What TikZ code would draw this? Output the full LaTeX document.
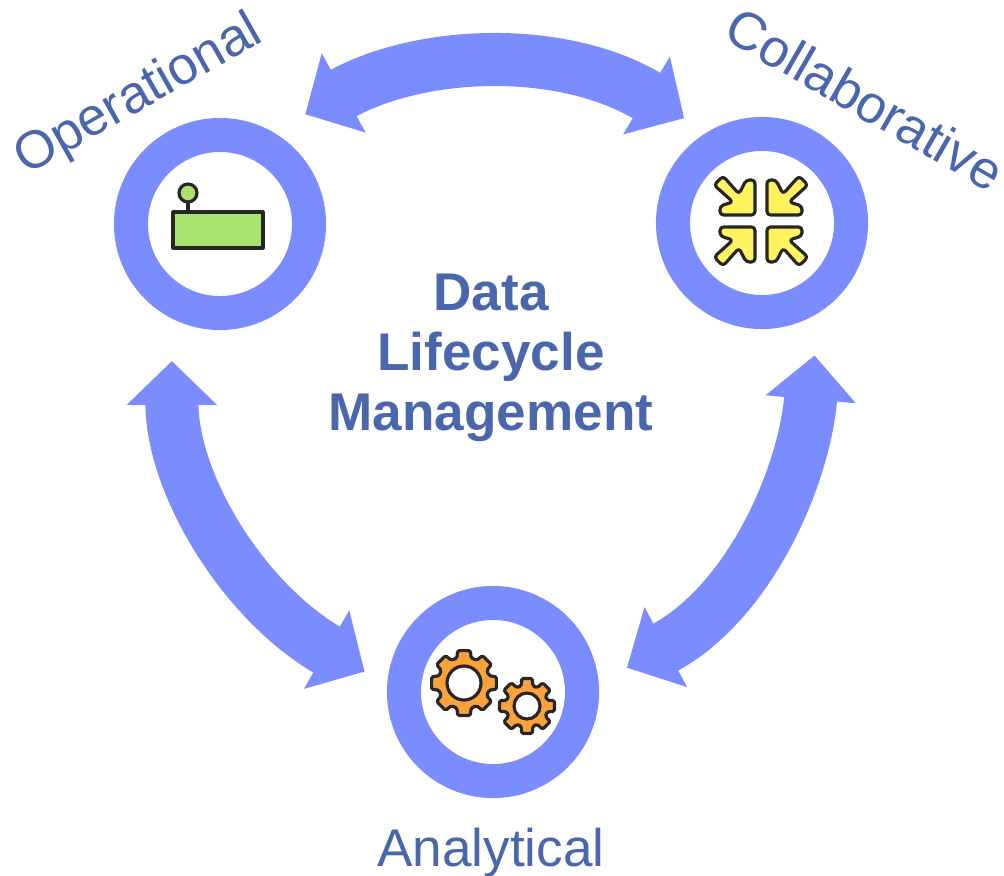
\documentclass[tikz,border=0pt]{standalone}
\usepackage{fontspec}
\setmainfont{Liberation Sans}
\usetikzlibrary{arrows.meta,calc}
\definecolor{flowblue}{HTML}{7B8CFF}
\definecolor{labelblue}{HTML}{4A66AC}
\definecolor{boxgreen}{HTML}{A9E26F}
\definecolor{arrowyellow}{HTML}{FFF45F}
\definecolor{gearorange}{HTML}{F9A23C}
\tikzset{
	ring/.style={circle,draw=flowblue,line width=.34cm,minimum size=1.78cm,inner sep=0pt},
	flow/.style={draw=flowblue,line width=.53cm,{Triangle[length=.44cm,width=.88cm]}-{Triangle[length=.44cm,width=.88cm]}},
	stage/.style={text=labelblue,font=\fontsize{15.1}{17}\selectfont},
	icon/.style={draw=black!85,line width=.9pt,line join=round}
}
\newcommand{\gearshape}[5]{% x, y, outer, root, hole
	\fill[icon,fill=gearorange,rounded corners=.015cm,even odd rule] ($(#1,#2)+(-16:#4)$)
	\foreach \a in {0,45,...,315}{
		-- ($(#1,#2)+(\a-11:#3)$) -- ($(#1,#2)+(\a+11:#3)$)
		-- ($(#1,#2)+(\a+16:#4)$) -- ($(#1,#2)+(\a+29:#4)$)
	} -- cycle (#1,#2) circle[radius=#5];
}
\begin{document}
\begin{tikzpicture}[x=.01cm,y=-.01cm]
	\useasboundingbox (0,0) rectangle (1004,875);
	\node[ring] (opr) at (220,224) {};
	\node[ring] (col) at (762,223) {};
	\node[ring] (ana) at (493,692) {};
	\draw[flow,shorten <=.368cm,shorten >=.27cm] (opr.60) to[out=29,in=149,looseness=1.0] (col.121);
	\draw[flow,shorten <=.425cm,shorten >=.26cm] (opr.243) to[out=-90,in=150] (ana.176);
	\draw[flow,shorten <=.426cm,shorten >=.32cm] (col.302) to[out=-95,in=28] (ana.5);
	\node[stage,font=\fontsize{15.1}{17}\selectfont\bfseries,align=center] (title) at (491,358) {Data\\Lifecycle\\Management};
	\node[stage,rotate=29.5] (oprlabel) at (139,96) {Operational};
	\node[stage,rotate=-30] (collabel) at (865,99) {Collaborative};
	\node[stage] (analabel) at (491,853) {Analytical};
	% operational icon
	\draw[icon,fill=boxgreen] (173,212) rectangle (263,248);
	\draw[icon] (188,202) -- (188,212);
	\draw[icon,fill=boxgreen] (188,193) circle[radius=9];
	% collaborative icon
	\foreach \sx/\sy in {1/1,-1/1,1/-1,-1/-1}{
		\draw[icon,fill=arrowyellow,rounded corners=.035cm,shift={(761,221)},xscale=\sx,yscale=\sy]
			(-6,-6) -- (-6,-41) -- (-15,-41) -- (-22,-27) -- (-38,-45) -- (-47,-36) -- (-28,-19) -- (-41,-15) -- (-41,-6) -- cycle;
	}
	% analytical icon
	\gearshape{464}{683}{33}{26}{17}
	\gearshape{527}{706}{28}{21}{13}
\end{tikzpicture}
\end{document}
